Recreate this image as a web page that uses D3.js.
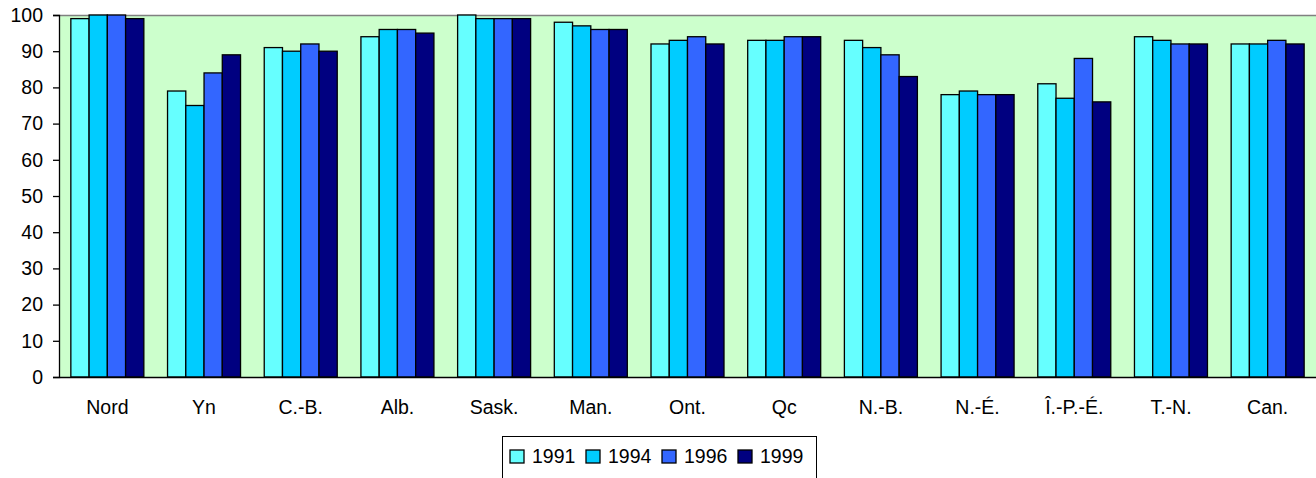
<!DOCTYPE html>
<html><head><meta charset="utf-8">
<script src="https://cdn.jsdelivr.net/npm/d3@7"></script>
<style>html,body{margin:0;padding:0;background:#fff;}svg{display:block;font-family:Arial,"Liberation Sans",sans-serif;}</style>
</head><body>
<svg id="c" width="1316" height="478"></svg>
<script>
const categories = ["Nord","Yn","C.-B.","Alb.","Sask.","Man.","Ont.","Qc","N.-B.","N.-É.","Î.-P.-É.","T.-N.","Can."];
const years = ["1991","1994","1996","1999"];
const v1991 = [99,79,91,94,100,98,92,93,93,78,81,94,92];
const v1994 = [100,75,90,96,99,97,93,93,91,79,77,93,92];
const v1996 = [100,84,92,96,99,96,94,94,89,78,88,92,93];
const v1999 = [99,89,90,95,99,96,92,94,83,78,76,92,92];
const yTicks = [0,10,20,30,40,50,60,70,80,90,100];
const colors = ["#66FFFF","#00CCFF","#3366FF","#000080"];
const series = [v1991,v1994,v1996,v1999];

const svg = d3.select("#c");
const L = 59, R = 1316, T = 15, B = 377;
const FONT = "Arial, 'Liberation Sans', sans-serif";
const x = d3.scaleBand().domain(categories).range([L, R]).paddingInner(0.245).paddingOuter(0.1225);
const xs = d3.scaleBand().domain(years).range([0, x.bandwidth()]);
const y = d3.scaleLinear().domain([0,100]).range([B, T]);

svg.append("rect").attr("x",L).attr("y",T).attr("width",R-L).attr("height",B-T).attr("fill","#CCFFCC");
svg.append("line").attr("x1",L).attr("x2",R).attr("y1",T+0.5).attr("y2",T+0.5).attr("stroke","#808080").attr("stroke-width",1.5);

const g = svg.append("g");
series.forEach((vals,si)=>{
  g.selectAll(null).data(categories).enter().append("rect")
    .attr("x",c=>x(c)+xs(years[si]))
    .attr("y",(c,i)=>y(vals[i]))
    .attr("width",xs.bandwidth())
    .attr("height",(c,i)=>B-y(vals[i]))
    .attr("fill",colors[si])
    .attr("stroke","#000").attr("stroke-width",1.3);
});

const ya = svg.append("g").attr("transform",`translate(${L},0)`)
  .call(d3.axisLeft(y).tickValues(yTicks).tickSize(6).tickPadding(10));
ya.select(".domain").attr("stroke","#000").attr("stroke-width",1.3);
ya.selectAll(".tick line").attr("stroke","#000").attr("stroke-width",1.3);
ya.selectAll("text").attr("font-size",19.5).attr("fill","#000").attr("font-family",FONT);

const xa = svg.append("g").attr("transform",`translate(0,${B})`)
  .call(d3.axisBottom(x).tickSize(0).tickPadding(23));
xa.select(".domain").attr("stroke","#000").attr("stroke-width",1.3);
xa.selectAll("text").attr("font-size",19.5).attr("fill","#000").attr("font-family",FONT);

// legend
const lg = svg.append("g");
lg.append("rect").attr("x",502.5).attr("y",436.5).attr("width",314).attr("height",60).attr("fill","#fff").attr("stroke","#000").attr("stroke-width",1);
const lx = d3.scaleOrdinal().domain(years).range([510,586,662,738]);
years.forEach((yr,i)=>{
  lg.append("rect").attr("x",lx(yr)).attr("y",450).attr("width",14).attr("height",13)
    .attr("fill",colors[i]).attr("stroke","#000").attr("stroke-width",1.3);
  lg.append("text").attr("x",lx(yr)+22).attr("y",463).attr("font-size",19.5).attr("fill","#000").attr("font-family",FONT).text(yr);
});
</script>
</body></html>
